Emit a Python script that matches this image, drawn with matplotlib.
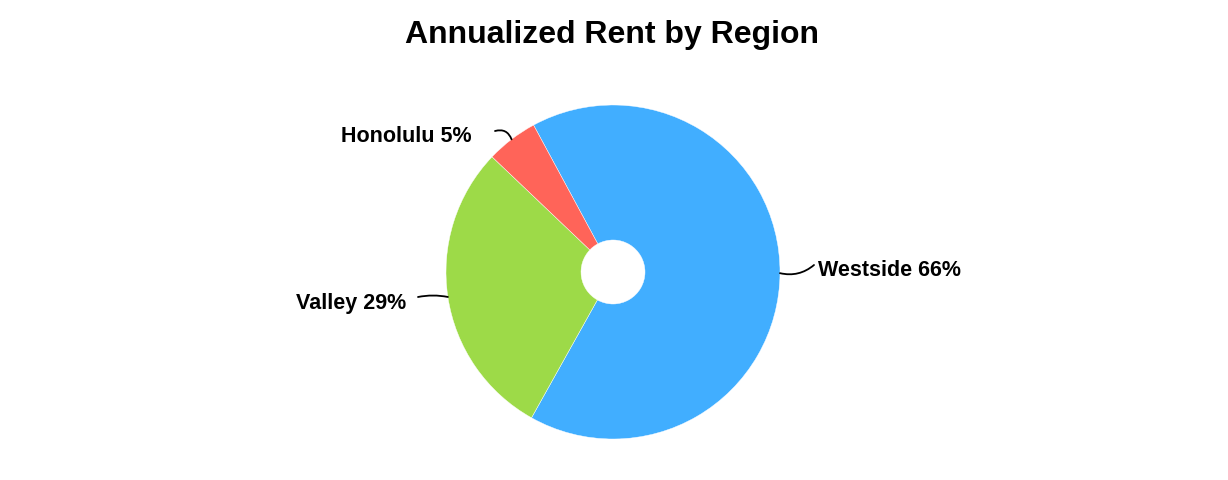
import matplotlib
matplotlib.use("Agg")
import matplotlib.pyplot as plt
import numpy as np

regions = ["Westside", "Valley", "Honolulu"]
shares = [66, 29, 5]
colors = ["#41AEFF", "#9DDA48", "#FF6459"]
title = "Annualized Rent by Region"

plt.rcParams['font.family'] = ['Liberation Sans', 'DejaVu Sans']

W, H = 1228, 480
fig = plt.figure(figsize=(W / 100, H / 100), dpi=100)
ax = fig.add_axes([0, 0, 1, 1])
ax.set_xlim(0, W)
ax.set_ylim(0, H)
ax.set_aspect('equal')
ax.axis('off')

cx, cy, R = 613, 480 - 272, 167
hole = 32
wedges, _ = ax.pie(shares, colors=colors, startangle=118.4, counterclock=False,
                   center=(cx, cy), radius=R, frame=True,
                   wedgeprops=dict(width=R - hole, edgecolor='white', linewidth=0.3))
ax.set_xlim(0, W)
ax.set_ylim(0, H)
ax.axis('off')

# labels with curved leaders
specs = {
    "Westside": dict(text_xy=(818, 480 - 271), ha='left', end=(814, 480 - 265), rad=0.25),
    "Valley": dict(text_xy=(406, 480 - 304), ha='right', end=(418, 480 - 297), rad=0.1),
    "Honolulu": dict(text_xy=(472, 480 - 137), ha='right', end=(495, 480 - 131), rad=0.45),
}
for w, name, s in zip(wedges, regions, shares):
    mid = np.deg2rad((w.theta1 + w.theta2) / 2)
    px, py = cx + R * np.cos(mid), cy + R * np.sin(mid)
    sp = specs[name]
    ax.annotate("", xy=sp["end"], xytext=(px, py),
                arrowprops=dict(arrowstyle='-', color='black', lw=1.3,
                                connectionstyle=f"arc3,rad={sp['rad']}",
                                shrinkA=0, shrinkB=0))
    ax.text(sp["text_xy"][0], sp["text_xy"][1], f"{name} {s}%", ha=sp["ha"], va='center',
            fontsize=15.5, fontweight='bold', color='black')

ax.text(612, 480 - 35, title, ha='center', va='center', fontsize=23, fontweight='bold')

fig.savefig("out.png", dpi=100, facecolor='white')
